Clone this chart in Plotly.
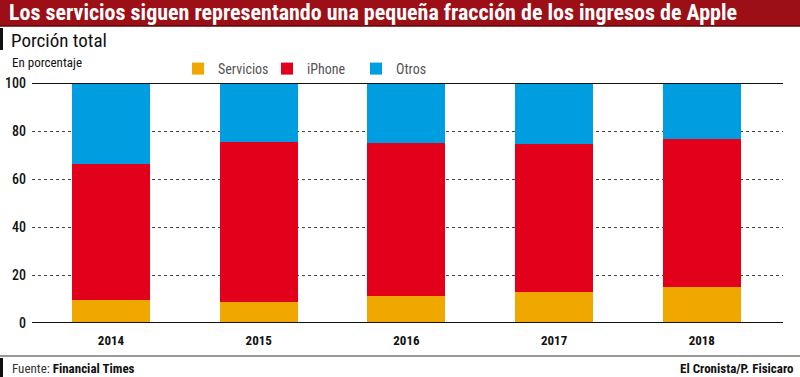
import plotly.graph_objects as go

years = ["2014", "2015", "2016", "2017", "2018"]
servicios = [9.6, 8.6, 11.1, 12.8, 14.9]
iphone = [56.6, 66.8, 63.7, 61.7, 61.7]
otros = [33.8, 24.6, 25.2, 25.5, 23.4]
y_ticks = [0, 20, 40, 60, 80, 100]

COND = "Roboto Condensed, DejaVu Sans Condensed, sans-serif"

W, H = 800, 377
ML, MR, MT, MB = 32, 17, 83, 54
PW, PH = W - ML - MR, H - MT - MB


def px_x(px):
    return (px - ML) / PW


def px_y(py):
    return (H - MB - py) / PH


fig = go.Figure()
fig.add_trace(go.Bar(x=years, y=servicios, name="Servicios", marker_color="#f0a800", marker_line_width=0))
fig.add_trace(go.Bar(x=years, y=iphone, name="iPhone", marker_color="#e2001a", marker_line_width=0))
fig.add_trace(go.Bar(x=years, y=otros, name="Otros", marker_color="#009ee0", marker_line_width=0))

fig.update_layout(
    width=W, height=H,
    barmode="stack", bargap=0.473,
    paper_bgcolor="white", plot_bgcolor="white",
    margin=dict(l=ML, r=MR, t=MT, b=MB, autoexpand=False),
    font=dict(family=COND, color="#111"),
    xaxis=dict(type="category", range=[-0.535, 4.55], showgrid=False, showline=False,
               ticks="", tickfont=dict(size=13, family=COND, weight="bold", color="#111"), ticklabelstandoff=8),
    yaxis=dict(range=[0, 100], tickvals=y_ticks, showgrid=True, gridcolor="#444",
               griddash="dot", gridwidth=1, zeroline=False, showline=False, ticks="",
               tickfont=dict(size=14, family=COND, color="#111", weight=500), ticklabelstandoff=5),
    legend=dict(orientation="h", x=px_x(178), y=px_y(53), xanchor="left", yanchor="top",
                font=dict(size=14, family=COND, color="#555"), entrywidth=44,
                traceorder="normal", itemwidth=30, bgcolor="rgba(0,0,0,0)"),
    showlegend=True,
)

shapes = [
    dict(type="rect", xref="paper", yref="paper", x0=px_x(0), x1=px_x(800), y0=px_y(26), y1=px_y(0),
         fillcolor="#9c0f17", line_width=0, layer="below"),
    dict(type="line", xref="paper", yref="paper", x0=px_x(0), x1=px_x(800), y0=px_y(26), y1=px_y(26),
         line=dict(color="#5a0a0e", width=1.5)),
    dict(type="rect", xref="paper", yref="paper", x0=px_x(0), x1=px_x(3), y0=px_y(50), y1=px_y(28),
         fillcolor="#111", line_width=0),
    dict(type="line", xref="paper", yref="paper", x0=px_x(0), x1=px_x(800), y0=px_y(356), y1=px_y(356),
         line=dict(color="#999", width=2)),
    dict(type="rect", xref="paper", yref="paper", x0=px_x(0), x1=px_x(3), y0=px_y(377), y1=px_y(358),
         fillcolor="#111", line_width=0),
    dict(type="line", xref="paper", yref="y", x0=0, x1=1, y0=0, y1=0, line=dict(color="#111", width=2)),
    dict(type="line", xref="paper", yref="y", x0=0, x1=1, y0=100, y1=100, line=dict(color="#111", width=2)),
]
fig.update_layout(shapes=shapes)

annotations = [
    dict(text="<b>Los servicios siguen representando una pequeña fracción de los ingresos de Apple</b>",
         xref="paper", yref="paper", x=px_x(7), y=px_y(13), xanchor="left", yanchor="middle",
         showarrow=False, font=dict(size=22, color="white", family=COND)),
    dict(text="Porción total", xref="paper", yref="paper", x=px_x(9), y=px_y(41),
         xanchor="left", yanchor="middle", showarrow=False, font=dict(size=19, color="#111", family=COND)),
    dict(text="En porcentaje", xref="paper", yref="paper", x=px_x(10), y=px_y(62),
         xanchor="left", yanchor="middle", showarrow=False, font=dict(size=13, color="#111", family=COND)),
    dict(text="<span style='color:#333'>Fuente:</span> <b>Financial Times</b>", xref="paper", yref="paper",
         x=px_x(10), y=px_y(368), xanchor="left", yanchor="middle", showarrow=False,
         font=dict(size=13, color="#111", family=COND)),
    dict(text="<b>El Cronista/P. Fisicaro</b>", xref="paper", yref="paper", x=px_x(796), y=px_y(368),
         xanchor="right", yanchor="middle", showarrow=False, font=dict(size=13, color="#111", family=COND)),
]
fig.update_layout(annotations=annotations)

fig.write_html("out.html", config={"displayModeBar": False},
               post_script="document.body.style.margin='0';document.body.style.overflow='hidden';")
